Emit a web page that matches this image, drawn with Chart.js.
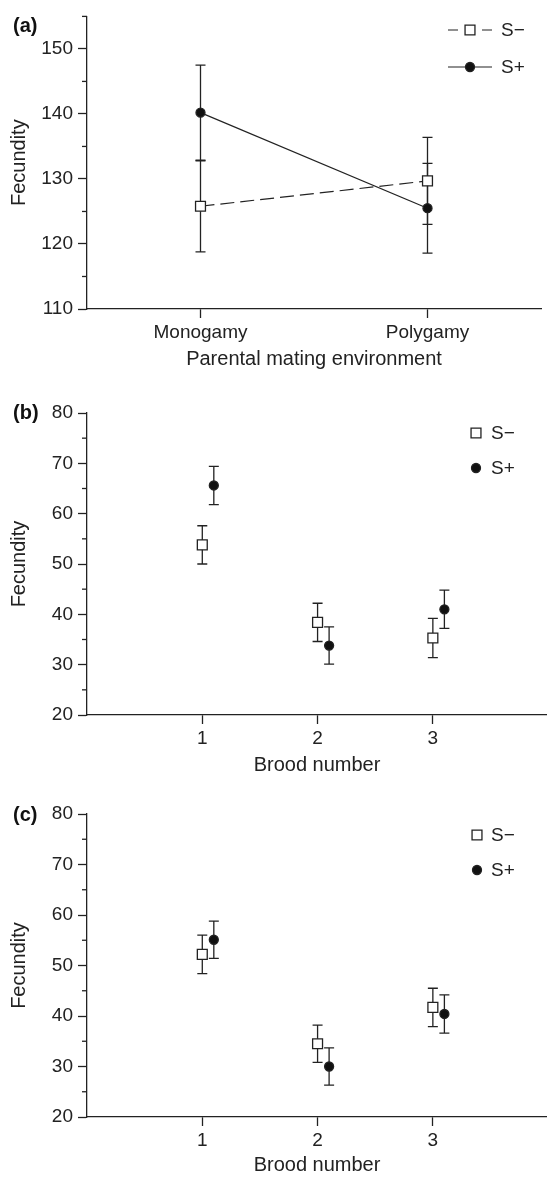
<!DOCTYPE html>
<html lang="en">
<head>
<meta charset="UTF-8">
<title>Fecundity by parental mating environment and brood</title>
<script src="https://cdn.jsdelivr.net/npm/chart.js"></script>
<style>
  body { margin: 0; background: #fff; overflow: hidden; }
  .panel { position: absolute; left: 0; width: 547px; overflow: hidden; }
  .tag { position: absolute; left: 13px; font: bold 20px 'Liberation Sans', Arial, sans-serif; line-height: 20px; color: #111; }
</style>
</head>
<body>

<div class="panel" style="top:0;height:380px"><canvas id="chartA" width="556" height="380"></canvas></div>
<div class="panel" style="top:380px;height:400px"><canvas id="chartB" width="556" height="400"></canvas></div>
<div class="panel" style="top:780px;height:398px"><canvas id="chartC" width="556" height="398"></canvas></div>
<span class="tag" style="top:15px">(a)</span>
<span class="tag" style="top:402px">(b)</span>
<span class="tag" style="top:804px">(c)</span>

<script>
const fontFamily = "'Liberation Sans', Arial, Helvetica, sans-serif";
const ink = '#222';

const seriesLabels = ['S\u2212', 'S+'];

// (a) fecundity by parental mating environment
const matingEnv = ['Monogamy', 'Polygamy'];
const aMinusMean = [125.8, 129.7];
const aMinusSe = [7.0, 6.7];
const aPlusMean = [140.2, 125.5];
const aPlusSe = [7.3, 6.9];
const aYTicks = [110, 120, 130, 140, 150];

// (b) and (c) fecundity by brood number
const broodNumber = [1, 2, 3];
const bMinusMean = [53.8, 38.4, 35.3];
const bMinusSe = [3.8, 3.8, 3.9];
const bPlusMean = [65.6, 33.8, 41.0];
const bPlusSe = [3.8, 3.7, 3.8];

const cMinusMean = [52.2, 34.5, 41.7];
const cMinusSe = [3.8, 3.7, 3.8];
const cPlusMean = [55.1, 30.0, 40.4];
const cPlusSe = [3.7, 3.7, 3.8];
const bcYTicks = [20, 30, 40, 50, 60, 70, 80];

// vertical error bars, drawn under the markers
const errorBars = {
    id: 'errorBars',
    beforeDatasetsDraw(chart) {
        const { ctx, scales: { x, y } } = chart;
        ctx.save();
        ctx.strokeStyle = ink;
        ctx.lineWidth = 1.3;
        chart.data.datasets.forEach(ds => {
            ds.data.forEach((p, i) => {
                const e = ds.errors[i];
                const px = x.getPixelForValue(p.x);
                const top = y.getPixelForValue(p.y + e);
                const bot = y.getPixelForValue(p.y - e);
                ctx.beginPath();
                ctx.moveTo(px, top); ctx.lineTo(px, bot);
                ctx.moveTo(px - 5, top); ctx.lineTo(px + 5, top);
                ctx.moveTo(px - 5, bot); ctx.lineTo(px + 5, bot);
                ctx.stroke();
            });
        });
        ctx.restore();
    }
};

// short unlabelled ticks between the labelled ones
const minorTicks = {
    id: 'minorTicks',
    afterDraw(chart, args, opts) {
        const { ctx, scales: { y } } = chart;
        ctx.save();
        ctx.strokeStyle = ink;
        ctx.lineWidth = 1.3;
        y.ticks.forEach(t => {
            if (opts.major.includes(t.value)) return;
            const py = y.getPixelForValue(t.value);
            ctx.beginPath();
            ctx.moveTo(y.right - 5, py);
            ctx.lineTo(y.right, py);
            ctx.stroke();
        });
        ctx.restore();
    }
};

// legend in the top right corner (line + marker for panel a)
const cornerLegend = {
    id: 'cornerLegend',
    afterDraw(chart, args, opts) {
        const ctx = chart.ctx;
        ctx.save();
        chart.data.datasets.forEach((ds, i) => {
            const y = opts.rows[i];
            const mx = opts.markerX;
            if (opts.lineHalf) {
                ctx.beginPath();
                ctx.strokeStyle = ink;
                ctx.lineWidth = 1.2;
                ctx.setLineDash(ds.borderDash ? [10, 2 * opts.lineHalf - 20] : []);
                ctx.moveTo(mx - opts.lineHalf, y);
                ctx.lineTo(mx + opts.lineHalf, y);
                ctx.stroke();
                ctx.setLineDash([]);
            }
            ctx.beginPath();
            if (ds.pointStyle === 'rect') {
                const h = ds.pointRadius * Math.SQRT1_2;
                ctx.rect(mx - h, y - h, 2 * h, 2 * h);
            } else {
                ctx.arc(mx, y, ds.pointRadius, 0, Math.PI * 2);
            }
            ctx.fillStyle = ds.pointBackgroundColor;
            ctx.fill();
            ctx.lineWidth = ds.pointBorderWidth;
            ctx.strokeStyle = ds.pointBorderColor;
            ctx.stroke();

            ctx.fillStyle = ink;
            ctx.font = '19px ' + fontFamily;
            ctx.textBaseline = 'middle';
            ctx.fillText(ds.label, opts.textX, y + 1);
        });
        ctx.restore();
    }
};

function series(xs, means, ses, idx, dx, withLine) {
    const base = {
        label: seriesLabels[idx],
        data: xs.map((v, i) => ({ x: v + dx, y: means[i] })),
        errors: ses,
        showLine: withLine,
        borderColor: ink,
        borderWidth: 1.2,
        pointBorderColor: ink,
        pointBorderWidth: 1.3
    };
    if (idx === 0) {
        return Object.assign(base, {
            borderDash: [14, 6],
            pointStyle: 'rect',
            pointRadius: 7,
            pointBackgroundColor: '#fff'
        });
    }
    return Object.assign(base, {
        pointStyle: 'circle',
        pointRadius: 4.5,
        pointBackgroundColor: '#111'
    });
}

function makePanel(id, p) {
    return new Chart(document.getElementById(id), {
        type: 'line',
        data: { datasets: p.datasets },
        options: {
            responsive: false,
            animation: false,
            events: [],
            layout: { padding: { top: p.top, right: p.right, left: 0, bottom: 0 } },
            plugins: {
                legend: { display: false },
                tooltip: { enabled: false },
                minorTicks: { major: p.yMajor },
                cornerLegend: p.legend
            },
            scales: {
                x: {
                    type: 'linear',
                    min: p.xMin,
                    max: p.xMax,
                    border: { display: true, color: ink, width: 1.3 },
                    grid: { drawOnChartArea: false, tickLength: 9, tickWidth: 1.3, tickColor: ink },
                    afterBuildTicks: s => { s.ticks = p.xTicks.map(v => ({ value: v })); },
                    ticks: {
                        autoSkip: false,
                        maxRotation: 0,
                        padding: 3,
                        color: ink,
                        font: { family: fontFamily, size: 19 },
                        callback: p.xLabel
                    },
                    title: {
                        display: true,
                        text: p.xTitle,
                        color: ink,
                        font: { family: fontFamily, size: 20 },
                        padding: { top: 0, bottom: p.titlePad }
                    },
                    afterFit: s => {
                        s.height = p.xHeight;
                        s.paddingLeft = 0;
                        s.paddingRight = 0;
                    }
                },
                y: {
                    min: p.yMin,
                    max: p.yMax,
                    border: { display: true, color: ink, width: 1.3 },
                    grid: {
                        drawOnChartArea: false,
                        tickLength: 9,
                        tickWidth: 1.3,
                        tickColor: c => p.yMajor.includes(c.tick.value) ? ink : 'rgba(0,0,0,0)'
                    },
                    ticks: {
                        stepSize: 5,
                        autoSkip: false,
                        maxTicksLimit: 50,
                        padding: 5,
                        color: ink,
                        font: { family: fontFamily, size: 19 },
                        callback: v => p.yMajor.includes(v) ? String(v) : ''
                    },
                    title: {
                        display: true,
                        text: 'Fecundity',
                        color: ink,
                        font: { family: fontFamily, size: 20 },
                        padding: { top: 7, bottom: 0 }
                    },
                    afterFit: s => { s.width = 87; }
                }
            }
        },
        plugins: [errorBars, minorTicks, cornerLegend]
    });
}

const envX = matingEnv.map((_, i) => i + 1);

makePanel('chartA', {
    datasets: [
        series(envX, aMinusMean, aMinusSe, 0, 0, true),
        series(envX, aPlusMean, aPlusSe, 1, 0, true)
    ],
    xMin: 0.5, xMax: 2.5, xTicks: envX,
    xLabel: v => matingEnv[envX.indexOf(v)],
    xTitle: 'Parental mating environment',
    yMin: 110, yMax: 155, yMajor: aYTicks,
    top: 12, right: 15, xHeight: 71, titlePad: 9,
    legend: { markerX: 470, textX: 501, rows: [30, 67], lineHalf: 22 }
});

makePanel('chartB', {
    datasets: [
        series(broodNumber, bMinusMean, bMinusSe, 0, 0, false),
        series(broodNumber, bPlusMean, bPlusSe, 1, 0.1, false)
    ],
    xMin: 0, xMax: 3.99, xTicks: broodNumber,
    xLabel: v => String(v),
    xTitle: 'Brood number',
    yMin: 20, yMax: 80, yMajor: bcYTicks,
    top: 33, right: 9, xHeight: 65, titlePad: 3,
    legend: { markerX: 476, textX: 491, rows: [53, 88], lineHalf: 0 }
});

makePanel('chartC', {
    datasets: [
        series(broodNumber, cMinusMean, cMinusSe, 0, 0, false),
        series(broodNumber, cPlusMean, cPlusSe, 1, 0.1, false)
    ],
    xMin: 0, xMax: 3.99, xTicks: broodNumber,
    xLabel: v => String(v),
    xTitle: 'Brood number',
    yMin: 20, yMax: 80, yMajor: bcYTicks,
    top: 34, right: 9, xHeight: 61, titlePad: 1,
    legend: { markerX: 477, textX: 491, rows: [55, 90], lineHalf: 0 }
});
</script>
</body>
</html>
